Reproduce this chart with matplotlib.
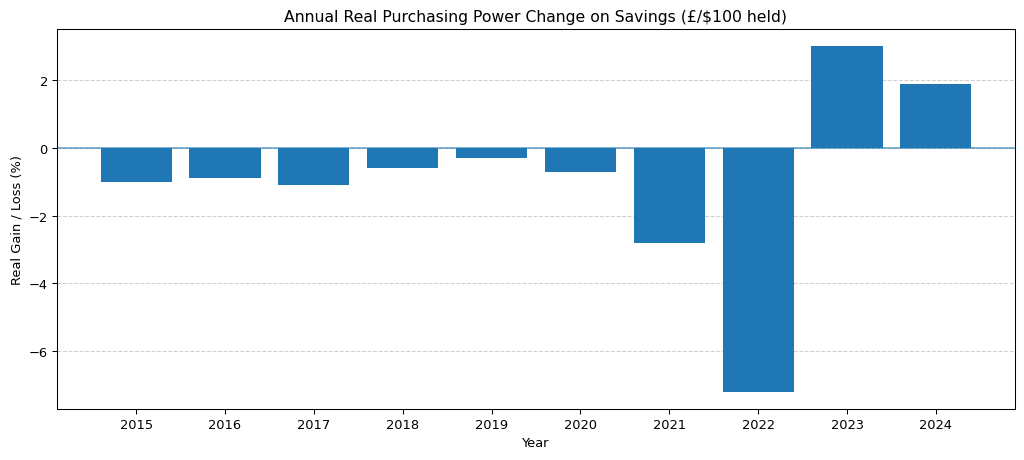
import matplotlib
matplotlib.use("Agg")
import matplotlib.pyplot as plt

years = [2015, 2016, 2017, 2018, 2019, 2020, 2021, 2022, 2023, 2024]
real_change = [-1.0, -0.9, -1.1, -0.6, -0.3, -0.7, -2.8, -7.2, 3.0, 1.9]

dpi = 94
fig, ax = plt.subplots(figsize=(1024 / dpi, 461 / dpi), dpi=dpi)
ax.axhline(0, color="#1f77b4", alpha=0.7, linewidth=1.2, zorder=1)
ax.bar(years, real_change, color="#1f77b4", zorder=2)
ax.set_xticks(years)
ax.set_title("Annual Real Purchasing Power Change on Savings (£/$100 held)")
ax.set_xlabel("Year")
ax.set_ylabel("Real Gain / Loss (%)")
ax.grid(axis="y", linestyle="--", alpha=0.6, zorder=0)
ax.set_axisbelow(True)
fig.subplots_adjust(left=57 / 1024, right=1015 / 1024, top=1 - 30 / 461, bottom=1 - 410 / 461)
fig.savefig("out.png", dpi=dpi)
